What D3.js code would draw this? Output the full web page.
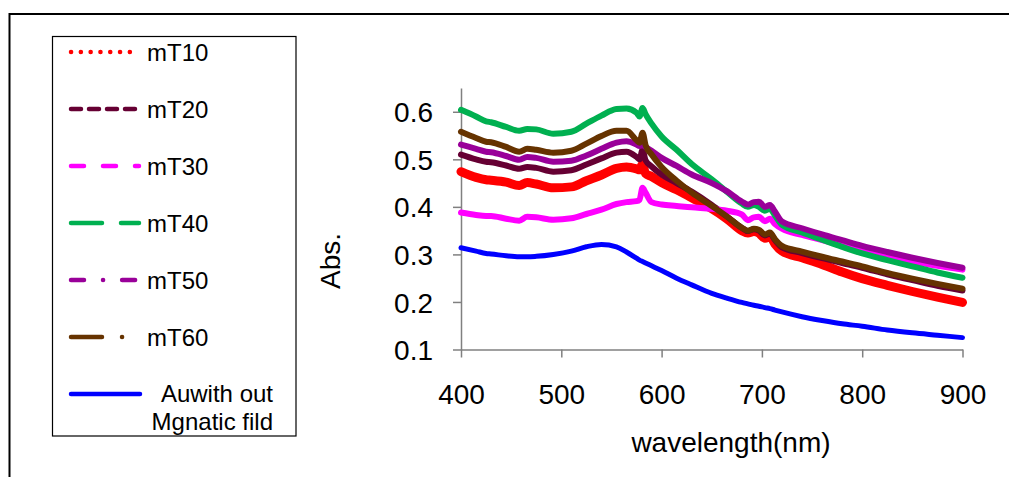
<!DOCTYPE html>
<html>
<head>
<meta charset="utf-8">
<script src="https://cdn.jsdelivr.net/npm/d3@7/dist/d3.min.js"></script>
<style>
  body { margin: 0; background: #fff; }
  svg { display: block; font-family: Arial, "Liberation Sans", sans-serif; }
</style>
</head>
<body>
<svg id="chart"></svg>
<script>
// wavelength samples (nm) shared by all curves
const wavelengths = [400, 415, 425, 430, 445, 458, 466, 475, 492, 510, 525, 540, 555, 565, 575, 578, 581, 584, 590, 600,
  615, 630, 650, 665, 680, 686, 692, 697, 703, 708, 713, 720, 740, 760, 780, 800, 825, 850, 875, 900];

const mT10 = [0.474, 0.462, 0.457, 0.456, 0.452, 0.445, 0.451, 0.448, 0.440, 0.442, 0.455, 0.467, 0.481, 0.484, 0.480, 0.478, 0.490, 0.470, 0.464, 0.451,
  0.436, 0.419, 0.396, 0.375, 0.350, 0.345, 0.348, 0.345, 0.334, 0.338, 0.322, 0.307, 0.293, 0.279, 0.263, 0.249, 0.235, 0.222, 0.210, 0.199];
const mT20 = [0.510, 0.500, 0.495, 0.494, 0.487, 0.480, 0.484, 0.482, 0.474, 0.477, 0.489, 0.502, 0.514, 0.516, 0.505, 0.500, 0.520, 0.498, 0.485, 0.468,
  0.450, 0.432, 0.404, 0.380, 0.356, 0.349, 0.353, 0.350, 0.340, 0.344, 0.330, 0.315, 0.303, 0.292, 0.282, 0.272, 0.258, 0.246, 0.234, 0.224];
const mT30 = [0.388, 0.383, 0.381, 0.381, 0.375, 0.371, 0.379, 0.378, 0.373, 0.376, 0.385, 0.394, 0.406, 0.410, 0.412, 0.415, 0.440, 0.430, 0.410, 0.405,
  0.402, 0.399, 0.396, 0.392, 0.384, 0.372, 0.378, 0.379, 0.370, 0.375, 0.364, 0.354, 0.341, 0.330, 0.319, 0.309, 0.296, 0.285, 0.276, 0.268];
const mT40 = [0.604, 0.590, 0.580, 0.578, 0.568, 0.560, 0.564, 0.563, 0.554, 0.558, 0.575, 0.592, 0.606, 0.607, 0.598, 0.590, 0.608, 0.595, 0.575, 0.548,
  0.520, 0.490, 0.458, 0.432, 0.407, 0.400, 0.404, 0.400, 0.392, 0.396, 0.382, 0.362, 0.346, 0.331, 0.316, 0.302, 0.288, 0.275, 0.262, 0.251];
const mT50 = [0.531, 0.522, 0.516, 0.515, 0.507, 0.499, 0.505, 0.503, 0.495, 0.497, 0.508, 0.522, 0.535, 0.538, 0.531, 0.528, 0.530, 0.526, 0.518, 0.503,
  0.486, 0.468, 0.450, 0.433, 0.411, 0.405, 0.410, 0.411, 0.400, 0.404, 0.390, 0.369, 0.355, 0.342, 0.330, 0.318, 0.305, 0.293, 0.282, 0.272];
const mT60 = [0.558, 0.545, 0.537, 0.536, 0.526, 0.516, 0.522, 0.520, 0.514, 0.518, 0.533, 0.549, 0.560, 0.560, 0.540, 0.535, 0.556, 0.530, 0.510, 0.484,
  0.455, 0.430, 0.402, 0.380, 0.356, 0.350, 0.354, 0.352, 0.342, 0.346, 0.332, 0.318, 0.306, 0.295, 0.285, 0.275, 0.261, 0.249, 0.238, 0.228];
const auNoField = [0.314, 0.307, 0.302, 0.301, 0.297, 0.295, 0.295, 0.296, 0.300, 0.307, 0.316, 0.321, 0.316, 0.305, 0.292, 0.288, 0.285, 0.282, 0.276, 0.266,
  0.250, 0.236, 0.218, 0.208, 0.199, 0.196, 0.193, 0.191, 0.188, 0.186, 0.183, 0.179, 0.169, 0.161, 0.154, 0.149, 0.141, 0.135, 0.130, 0.125];

const seriesNames = ['mT10', 'mT20', 'mT30', 'mT40', 'mT50', 'mT60', ['Auwith out', 'Mgnatic fild']];
const xTicks = [400, 500, 600, 700, 800, 900];
const yTicks = [0.1, 0.2, 0.3, 0.4, 0.5, 0.6];

const series = [
  { values: mT10, color: '#ff0000', width: 9, dash: '0.1 9.7' },
  { values: mT20, color: '#660033', width: 6, dash: '10 8' },
  { values: mT30, color: '#ff00ff', width: 6, dash: '13 19' },
  { values: mT40, color: '#00b050', width: 6, dash: '31 19' },
  { values: mT50, color: '#990099', width: 6, dash: '13 19 0.1 19' },
  { values: mT60, color: '#663300', width: 6, dash: '31 20 0.1 20' },
  { values: auNoField, color: '#0000ff', width: 5, dash: null }
];

const W = 1009, H = 477;
const svg = d3.select('#chart').attr('width', W).attr('height', H);

// outer frame (only top and left edges are visible)
svg.append('path')
  .attr('d', `M9.5,${H} L9.5,14 L${W},14`)
  .attr('fill', 'none')
  .attr('stroke', '#000')
  .attr('stroke-width', 2);

const x = d3.scaleLinear().domain([400, 900]).range([461, 962.5]);
const y = d3.scaleLinear().domain([0.1, 0.65]).range([349.5, 88]);

// x axis
const xAxis = svg.append('g')
  .attr('class', 'x-axis')
  .attr('transform', `translate(0,${y(0.1)})`)
  .call(d3.axisBottom(x).tickValues(xTicks).tickSize(8).tickSizeOuter(0).tickPadding(30));
xAxis.selectAll('text').attr('dy', 0).attr('y', 54.5);

// y axis
const yAxis = svg.append('g')
  .attr('class', 'y-axis')
  .attr('transform', `translate(${x(400)},0)`)
  .call(d3.axisLeft(y).tickValues(yTicks).tickSize(8).tickSizeOuter(0).tickPadding(20).tickFormat(d3.format('.1f')));
yAxis.selectAll('text').attr('dy', '0.36em');

svg.selectAll('.x-axis, .y-axis').each(function() {
  const g = d3.select(this);
  g.select('.domain').attr('stroke', '#808080').attr('stroke-width', 1.5);
  g.selectAll('.tick line').attr('stroke', '#808080').attr('stroke-width', 1.5);
  g.selectAll('.tick text').attr('fill', '#000').style('font-size', '28px').style('font-family', 'Arial, "Liberation Sans", sans-serif');
});

// axis titles
svg.append('text')
  .attr('x', 731)
  .attr('y', 452)
  .attr('text-anchor', 'middle')
  .style('font-size', '28px')
  .text('wavelength(nm)');

svg.append('text')
  .attr('transform', 'translate(340,261) rotate(-90)')
  .attr('text-anchor', 'middle')
  .style('font-size', '28px')
  .text('Abs.');

// curves
const line = d3.line()
  .x((d, i) => x(wavelengths[i]))
  .y(d => y(d))
  .curve(d3.curveMonotoneX);

svg.append('g')
  .attr('class', 'curves')
  .selectAll('path')
  .data(series)
  .join('path')
  .attr('d', d => line(d.values))
  .attr('fill', 'none')
  .attr('stroke', d => d.color)
  .attr('stroke-width', d => d.width)
  .attr('stroke-linejoin', 'round')
  .attr('stroke-linecap', 'round');

// legend
const legend = svg.append('g').attr('class', 'legend');
legend.append('rect')
  .attr('x', 52.5).attr('y', 36.5)
  .attr('width', 243.5).attr('height', 399.5)
  .attr('fill', '#fff')
  .attr('stroke', '#000')
  .attr('stroke-width', 1.2);

const rowY = d3.scaleLinear().domain([0, 6]).range([52, 394]);

const rows = legend.selectAll('.row')
  .data(series)
  .join('g')
  .attr('class', 'row')
  .attr('transform', (d, i) => `translate(0,${rowY(i)})`);

rows.append('line')
  .attr('x1', 71).attr('x2', d => d.dash ? 139 : 140)
  .attr('stroke', d => d.color)
  .attr('stroke-width', 4.5)
  .attr('stroke-linecap', 'round')
  .attr('stroke-dasharray', d => d.dash);

rows.each(function(d, i) {
  const name = seriesNames[i];
  const row = d3.select(this);
  if (Array.isArray(name)) {
    row.append('text')
      .attr('x', 273).attr('y', 8)
      .attr('text-anchor', 'end')
      .style('font-size', '24px')
      .text(name[0]);
    row.append('text')
      .attr('x', 273).attr('y', 36)
      .attr('text-anchor', 'end')
      .style('font-size', '24px')
      .text(name[1]);
  } else {
    row.append('text')
      .attr('x', 147).attr('y', 9)
      .style('font-size', '24px')
      .text(name);
  }
});
</script>
</body>
</html>
